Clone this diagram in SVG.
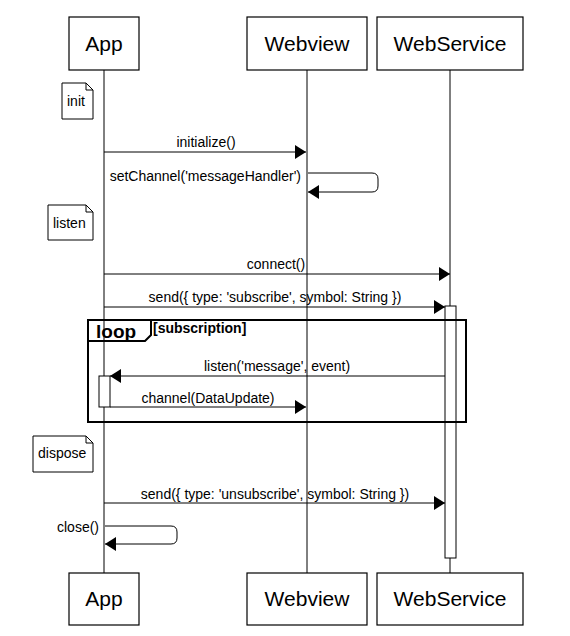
<svg xmlns="http://www.w3.org/2000/svg" width="570" height="636" viewBox="0 0 570 636">
<defs>
<style>
.box{fill:#fff;stroke:#000;stroke-width:1.2}
.life{stroke:#000;stroke-width:1;fill:none}
.msg{stroke:#000;stroke-width:1;fill:none}
.act{fill:#fff;stroke:#000;stroke-width:1}
.frame{fill:none;stroke:#000;stroke-width:2}
.note{fill:#fff;stroke:#000;stroke-width:1}
.pt{font-family:"Liberation Sans",Arial,sans-serif;font-size:21px;fill:#000;text-anchor:middle}
.t{font-family:"Liberation Sans",Arial,sans-serif;font-size:14px;fill:#000}
.c{text-anchor:middle}
.r{text-anchor:end}
.b{font-weight:bold}
</style>
<marker id="ah" viewBox="0 0 11 14" refX="11" refY="7" markerWidth="11" markerHeight="14" markerUnits="userSpaceOnUse" orient="auto">
<path d="M0,0 L11,7 L0,14 Z" fill="#000"/>
</marker>
</defs>
<rect width="570" height="636" fill="#fff"/>

<g id="lifelines">
<line class="life" x1="104" y1="70" x2="104" y2="573"/>
<line class="life" x1="307" y1="70" x2="307" y2="573"/>
<line class="life" x1="450" y1="70" x2="450" y2="306"/>
<line class="life" x1="450" y1="558" x2="450" y2="573"/>
</g>

<g id="App">
<rect class="box" x="69" y="17" width="70" height="53"/>
<text class="pt" x="104" y="51">App</text>
<rect class="box" x="69" y="573" width="70" height="52"/>
<text class="pt" x="104" y="606">App</text>
</g>
<g id="Webview">
<rect class="box" x="247" y="17" width="120" height="53"/>
<text class="pt" x="307" y="51">Webview</text>
<rect class="box" x="247" y="573" width="120" height="52"/>
<text class="pt" x="307" y="606">Webview</text>
</g>
<g id="WebService">
<rect class="box" x="377" y="17" width="146" height="53"/>
<text class="pt" x="450" y="51">WebService</text>
<rect class="box" x="377" y="573" width="146" height="52"/>
<text class="pt" x="450" y="606">WebService</text>
</g>

<g id="activations">
<rect class="act" x="445" y="306" width="11" height="252"/>
<rect class="act" x="99" y="376" width="11" height="31"/>
</g>

<g id="notes">
<g id="note-init">
<path class="note" d="M62,83 H86 L93,90 V119 H62 Z M86,83 V90 H93"/>
<text class="t" x="67" y="106">init</text>
</g>
<g id="note-listen">
<path class="note" d="M48,205 H86 L93,212 V240 H48 Z M86,205 V212 H93"/>
<text class="t" x="53" y="228">listen</text>
</g>
<g id="note-dispose">
<path class="note" d="M33,436 H86 L93,443 V472 H33 Z M86,436 V443 H93"/>
<text class="t" x="38" y="458">dispose</text>
</g>
</g>

<g id="loop-frame">
<rect class="frame" x="88" y="320" width="378" height="102"/>
<path class="frame" d="M88,341 H145 L151,335 V320"/>
<text class="t b" x="96" y="338" style="font-size:19px">loop</text>
<text class="t b" x="153" y="333">[subscription]</text>
</g>

<g id="connectors">
<line class="msg" x1="104" y1="152" x2="306" y2="152" marker-end="url(#ah)"/>
<text class="t c" x="206" y="147">initialize()</text>

<path class="msg" d="M308,173 H372 Q378,173 378,179 V186 Q378,192 372,192 H308" marker-end="url(#ah)"/>
<text class="t r" x="301" y="181">setChannel('messageHandler')</text>

<line class="msg" x1="104" y1="274" x2="450" y2="274" marker-end="url(#ah)"/>
<text class="t c" x="276" y="269">connect()</text>

<line class="msg" x1="104" y1="307" x2="445" y2="307" marker-end="url(#ah)"/>
<text class="t c" x="275" y="302">send({ type: 'subscribe', symbol: String })</text>

<line class="msg" x1="445" y1="376" x2="110" y2="376" marker-end="url(#ah)"/>
<text class="t c" x="277" y="371">listen('message', event)</text>

<line class="msg" x1="110" y1="407" x2="306" y2="407" marker-end="url(#ah)"/>
<text class="t c" x="208" y="403">channel(DataUpdate)</text>

<line class="msg" x1="104" y1="503" x2="445" y2="503" marker-end="url(#ah)"/>
<text class="t c" x="275" y="499">send({ type: 'unsubscribe', symbol: String })</text>

<path class="msg" d="M105,526 H171 Q177,526 177,532 V538 Q177,544 171,544 H105" marker-end="url(#ah)"/>
<text class="t r" x="99" y="532">close()</text>
</g>
</svg>
